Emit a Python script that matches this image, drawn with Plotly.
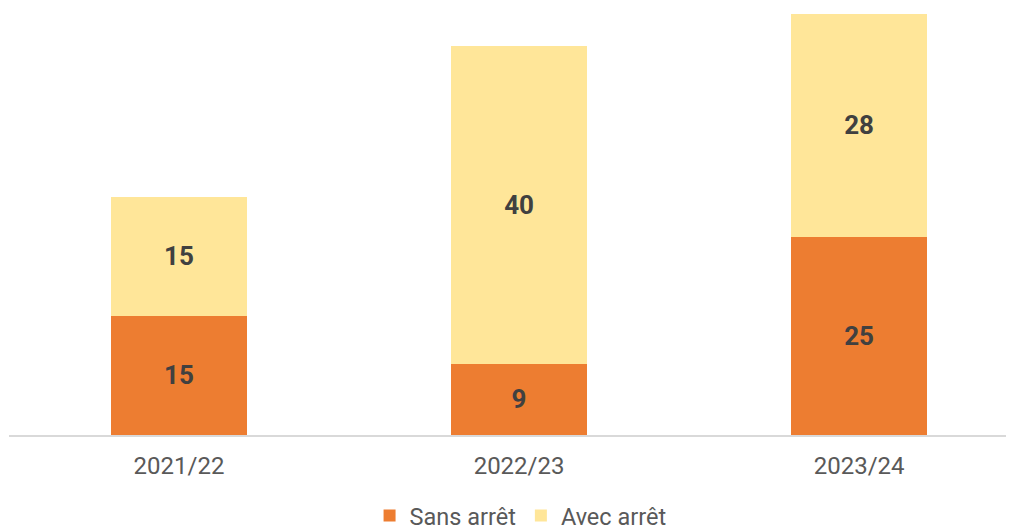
import plotly.graph_objects as go

# Données
saisons = ['2021/22', '2022/23', '2023/24']
sans_arret = [15, 9, 25]
avec_arret = [15, 40, 28]

ORANGE = '#ED7D31'
JAUNE = '#FFE699'

fig = go.Figure()

fig.add_trace(go.Bar(
    x=saisons,
    y=sans_arret,
    name='Sans arrêt',
    marker=dict(color=ORANGE, line=dict(width=0)),
    text=sans_arret,
    textposition='inside',
    insidetextanchor='middle',
    textfont=dict(family='Roboto', size=26, color='#404040', weight='bold'),
    width=0.4
))
fig.add_trace(go.Bar(
    x=saisons,
    y=avec_arret,
    name='Avec arrêt',
    marker=dict(color=JAUNE, line=dict(width=0)),
    text=avec_arret,
    textposition='inside',
    insidetextanchor='middle',
    textfont=dict(family='Roboto', size=26, color='#404040', weight='bold'),
    width=0.4
))

# la page ajoute une marge de 8 px autour du graphique
fig.update_layout(
    barmode='stack',
    width=1014,
    height=529,
    margin=dict(l=1, r=0, t=0, b=102, autoexpand=False),
    paper_bgcolor='white',
    plot_bgcolor='white',
    font=dict(family='Roboto', size=24, color='#595959'),
    legend=dict(
        orientation='h',
        x=0.505, xanchor='center',
        yref='container', y=0.040, yanchor='middle',
        font=dict(family='Roboto', size=23.5, color='#595959'),
        traceorder='normal',
        itemwidth=30,
    ),
    xaxis=dict(
        type='category',
        range=[-0.5, 2.479],
        automargin=False,
        showline=True, linecolor='#D9D9D9', linewidth=2,
        showgrid=False, zeroline=False,
        ticks='outside', ticklen=8, tickcolor='rgba(0,0,0,0)',
        tickfont=dict(family='Roboto', size=24, color='#595959'),
    ),
    yaxis=dict(
        range=[0, 53.78],
        visible=False,
        showgrid=False, zeroline=False,
    ),
)

fig.write_html("out.html")
